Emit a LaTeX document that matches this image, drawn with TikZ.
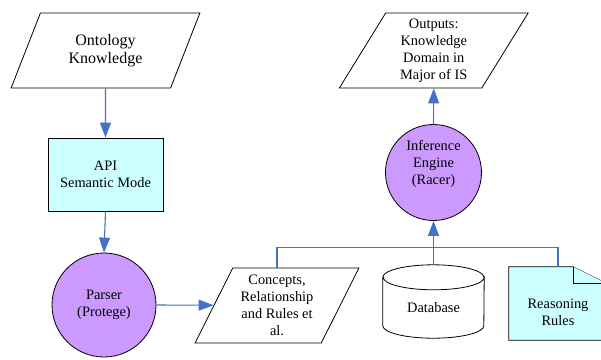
\documentclass[tikz,border=0pt]{standalone}
\usepackage{fontspec}
\setmainfont{Liberation Serif}
\usetikzlibrary{shapes.geometric,arrows.meta,calc}
\definecolor{lnblue}{HTML}{4472C4}
\definecolor{purp}{HTML}{CC99FF}
\definecolor{cyanf}{HTML}{CCFFFF}
\begin{document}
\begin{tikzpicture}[x=1pt,y=-1pt,
  txt/.style={align=center,font=\fontsize{14.4}{17}\selectfont,inner sep=0pt},
  outl/.style={draw=black,line width=0.8pt},
  para/.style={outl,trapezium,trapezium left angle=63,trapezium right angle=117,
    trapezium stretches=true,minimum height=75pt,inner sep=0pt,txt},
  circ/.style={outl,circle,fill=purp,inner sep=0pt,txt},
  conn/.style={draw=lnblue,line width=1.1pt},
  arr/.style={conn,-{Triangle[length=15pt,width=11pt]}}]
\useasboundingbox (0,0) rectangle (601,359);
\begin{scope}
\clip (0,0) rectangle (601,359);
% nodes
\node[para,minimum width=189pt,font=\fontsize{16}{18}\selectfont] (ont) at (105.5,50.5) {Ontology\\Knowledge};
\node[outl,fill=cyanf,minimum width=115pt,minimum height=73pt,txt] (api) at (105.5,174.5) {API\\Semantic Mode};
\node[circ,minimum size=104pt] (par) at (104,305) {Parser\\(Protege)};
\node[para,minimum width=164pt] (cons) at (277,305.5) {Concepts,\\Relationship\\and Rules et\\al.};
\node[minimum width=101pt,minimum height=73pt,inner sep=0pt] (db) at (433.5,301.5) {};
\node[minimum width=98pt,minimum height=73pt,inner sep=0pt] (rules) at (558,303.5) {};
\node[circ,minimum size=96pt] (inf) at (433.5,172.5) {};
\node[txt] (inft) at (433.5,163.5) {Inference\\Engine\\(Racer)};
\node[para,minimum width=189pt] (out) at (433.75,50.5) {Outputs:\\Knowledge\\Domain in\\Major of IS};
% database cylinder
\path[outl,fill=white] ($(db.north west)+(0,12.5)$) -- ($(db.south west)+(0,-12.5)$)
  arc[start angle=180,end angle=360,x radius=50.5pt,y radius=12.5pt]
  -- ($(db.north east)+(0,12.5)$)
  arc[start angle=0,end angle=-180,x radius=50.5pt,y radius=12.5pt] -- cycle;
\draw[outl] ($(db.north west)+(0,12.5)$) arc[start angle=180,end angle=0,x radius=50.5pt,y radius=12.5pt];
\node[txt] (dbt) at ($(db.center)+(0,6.5)$) {Database};
% reasoning rules note
\path[outl,fill=cyanf] (rules.north west) -- ($(rules.north east)+(-34,0)$) -- ($(rules.north east)+(0,17)$)
  -- (rules.south east) -- (rules.south west) -- cycle;
\path[outl,fill=cyanf] ($(rules.north east)+(-34,0)$) -- ($(rules.north east)+(-34,17)$) -- ($(rules.north east)+(0,17)$);
\node[txt] (rulest) at ($(rules.center)+(0,8.5)$) {Reasoning\\Rules};
% connectors
\draw[arr] (ont.south) -- (api.north);
\draw[arr] (api.south) -- (par.north);
\draw[arr] (par.east) -- (cons);
\draw[conn] (cons.north) -- ++(0,-20) coordinate (jl) -| (rules.north);
\draw[arr] (db.north) -- (inf.south);
\draw[arr] (inf.north) -- (out.south);
\end{scope}
\end{tikzpicture}
\end{document}
